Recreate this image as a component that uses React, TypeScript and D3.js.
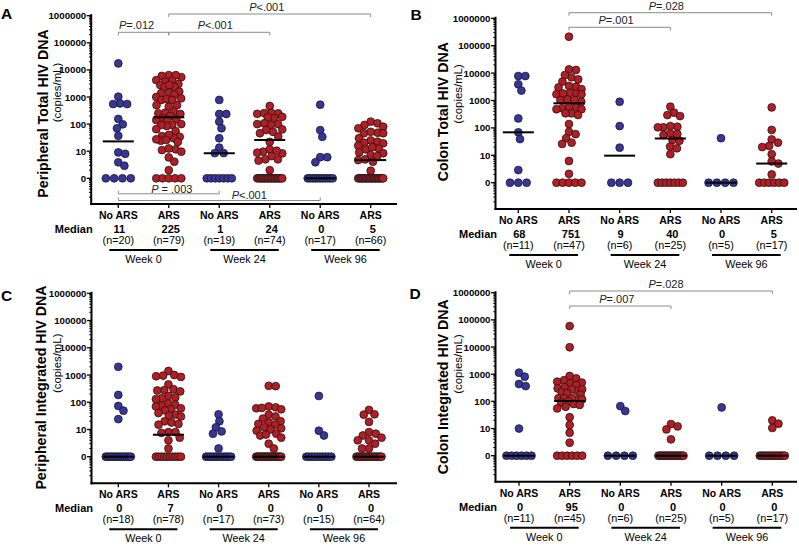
import React from "react";
import * as d3 from "d3";

const FONT = "'Liberation Sans', Arial, Helvetica, sans-serif";

const groupLabels = ["No ARS", "ARS", "No ARS", "ARS", "No ARS", "ARS"];
const groupArm = ["noars", "ars", "noars", "ars", "noars", "ars"];
const weekLabels = ["Week 0", "Week 24", "Week 96"];
const yTickValues = [1, 10, 100, 1000, 10000, 100000, 1000000];
const yTickLabels = ["0", "10", "100", "1000", "10000", "100000", "1000000"];

// ---------- Panel A: Peripheral Total HIV DNA ----------
const aNoArsW0 = [17400, 1030, 580, 550, 550, 155, 98, 70, 37, 9, 8, 3.9, 2.9, 0, 0, 0, 0];
const aArsW0 = [6400, 5400, 6000, 6400, 4200, 3700, 4000, 3000, 2750, 2300, 2400, 2750, 1580, 1380, 1450, 1200, 1000, 775, 830, 890, 775, 500, 440, 500, 290, 250, 263, 236, 200, 163, 141, 150, 141, 93, 85, 93, 100, 65, 55, 34, 30, 36, 40, 22, 24.5, 26, 27.5, 11.7, 9.6, 11, 12.6, 5.9, 4.1, 2, 0, 0, 0, 0, 0];
const aNoArsW24 = [780, 236, 236, 123, 70, 30, 13.5, 8.5, 8.5, 0, 0, 0, 0, 0, 0, 0];
const aArsW24 = [465, 250, 260, 240, 255, 185, 165, 178, 100, 93, 107, 100, 60, 52, 64, 46, 35, 22, 11.7, 9.6, 8.3, 8.8, 10.4, 5, 4.5, 5, 6.6, 2, 0, 0, 0, 0, 0, 0, 0, 0, 0, 0, 0, 0, 0, 0, 0, 0, 0, 0];
const aNoArsW96 = [520, 60, 34, 6, 6, 3.9, 0, 0, 0, 0, 0, 0, 0, 0, 0, 0, 0];
const aArsW96 = [123, 107, 93, 80, 70, 46, 48, 52, 46, 30, 25, 20.5, 22.4, 19.5, 16, 12.6, 11.7, 14, 9, 8.4, 7.2, 6.6, 4.7, 4.1, 5, 1.9, 0, 0, 0, 0, 0, 0, 0, 0, 0, 0, 0, 0, 0, 0, 0, 0, 0, 0, 0, 0];
const aMedianLines = [23, 178, 8.4, 26, 0, 4.7];
const aMedianLabels = ["11", "225", "1", "24", "0", "5"];
const aNLabels = ["(n=20)", "(n=79)", "(n=19)", "(n=74)", "(n=17)", "(n=66)"];

// ---------- Panel B: Colon Total HIV DNA ----------
const bNoArsW0 = [7800, 7800, 3900, 2300, 222, 69, 39, 2.9, 0, 0, 0];
const bArsW0 = [213000, 13000, 13700, 7000, 4900, 5900, 8500, 3200, 2600, 3000, 3400, 1700, 1900, 1800, 1800, 1700, 1040, 900, 1100, 1040, 560, 480, 520, 480, 590, 340, 295, 340, 138, 72, 59, 42, 26, 29, 6.2, 2.1, 0, 0, 0, 0, 0];
const bNoArsW24 = [900, 117, 19, 0, 0, 0];
const bArsW24 = [595, 360, 270, 295, 110, 105, 105, 117, 63, 55, 60, 36, 34, 20.7, 18, 11, 0, 0, 0, 0, 0, 0, 0];
const bNoArsW96 = [42, 0, 0, 0, 0];
const bArsW96 = [560, 84, 38, 29, 22, 20, 11, 6, 5, 2, 0, 0, 0, 0, 0, 0];
const bMedianLines = [69, 790, 9.7, 41, 0, 5];
const bMedianLabels = ["68", "751", "9", "40", "0", "5"];
const bNLabels = ["(n=11)", "(n=47)", "(n=6)", "(n=25)", "(n=5)", "(n=17)"];

// ---------- Panel C: Peripheral Integrated HIV DNA ----------
const cNoArsW0 = [2000, 185, 73, 49, 24, 0, 0, 0, 0, 0, 0, 0, 0, 0, 0, 0, 0, 0];
const cArsW0 = [1400, 1000, 950, 900, 850, 450, 300, 280, 270, 250, 170, 150, 140, 130, 90, 80, 75, 70, 60, 55, 50, 40, 35, 32, 30, 20, 18, 16, 15, 8, 8, 7.5, 5, 4, 2, 0, 0, 0, 0, 0, 0, 0, 0, 0, 0];
const cNoArsW24 = [36, 20, 12, 8.5, 7, 2, 0, 0, 0, 0, 0, 0, 0, 0, 0, 0, 0, 0];
const cArsW24 = [400, 390, 70, 65, 60, 55, 62, 35, 30, 25, 20, 18, 16, 15, 12, 11, 10, 9, 7, 6, 6.5, 5, 3, 2, 0, 0, 0, 0, 0, 0, 0, 0, 0, 0, 0, 0, 0, 0, 0, 0, 0, 0, 0, 0];
const cNoArsW96 = [170, 9, 6, 0, 0, 0, 0, 0, 0, 0, 0, 0, 0];
const cArsW96 = [52, 36, 35, 19, 8, 7, 6, 5, 4, 4, 3, 2, 2, 0, 0, 0, 0, 0, 0, 0, 0, 0, 0, 0, 0, 0, 0, 0, 0];
const cMedianLines = [0, 6.4, 0, 0, 0, 0];
const cMedianLabels = ["0", "7", "0", "0", "0", "0"];
const cNLabels = ["(n=18)", "(n=78)", "(n=17)", "(n=73)", "(n=15)", "(n=64)"];

// ---------- Panel D: Colon Integrated HIV DNA ----------
const dNoArsW0 = [1140, 810, 435, 365, 10, 0, 0, 0, 0, 0, 0];
const dArsW0 = [59000, 9800, 860, 700, 600, 460, 490, 530, 400, 300, 245, 277, 330, 277, 220, 200, 180, 118, 130, 130, 118, 130, 100, 90, 80, 63, 55, 74, 26, 13.5, 7, 3, 0, 0, 0, 0, 0, 0];
const dNoArsW24 = [67, 44, 0, 0, 0, 0];
const dArsW24 = [14.6, 12, 9.3, 4, 0, 0, 0, 0, 0, 0, 0, 0, 0, 0, 0, 0, 0, 0, 0, 0, 0, 0];
const dNoArsW96 = [60, 0, 0, 0, 0];
const dArsW96 = [20, 15, 10.5, 0, 0, 0, 0, 0, 0, 0, 0, 0, 0, 0, 0, 0, 0];
const dMedianLines = [0, 103, 0, 0, 0, 0];
const dMedianLabels = ["0", "95", "0", "0", "0", "0"];
const dNLabels = ["(n=11)", "(n=45)", "(n=6)", "(n=25)", "(n=5)", "(n=17)"];

const COLORS: Record<string, string> = { noars: "#36369c", ars: "#b41d23" };

type Bracket = { from: number; to: number; yPix: number; dir: number; text: string; dx: number; dy: number };
type Panel = {
  letter: string; letterX: number; letterY: number;
  title: string; titleX: number; titleY: number; unitX: number; unitY: number;
  axisX: number; yTop: number; yOne: number; xAxisY: number; xEnd: number; c1: number; c6: number;
  groups: number[][]; medians: number[]; medianLabels: string[]; nLabels: string[]; brackets: Bracket[];
};

const panels: Panel[] = [
  {
    letter: "A", letterX: 1, letterY: 18.5,
    title: "Peripheral Total HIV DNA", titleX: 42.7, titleY: 113.5, unitX: 56.7, unitY: 92.5,
    axisX: 91.2, yTop: 15.7, yOne: 178.3, xAxisY: 204, xEnd: 397, c1: 118.3, c6: 370.7,
    groups: [aNoArsW0, aArsW0, aNoArsW24, aArsW24, aNoArsW96, aArsW96],
    medians: aMedianLines, medianLabels: aMedianLabels, nLabels: aNLabels,
    brackets: [
      { from: 1, to: 5, yPix: 14, dir: 1, text: "<.001", dx: -3, dy: -3 },
      { from: 0, to: 1, yPix: 32.3, dir: 1, text: "=.012", dx: -7, dy: -3 },
      { from: 1, to: 3, yPix: 32.3, dir: 1, text: "<.001", dx: -4, dy: -3 },
      { from: 0, to: 2, yPix: 193.8, dir: -1, text: " = .003", dx: 3, dy: -1 },
      { from: 0, to: 4, yPix: 200.5, dir: -1, text: "<.001", dx: 30, dy: -1.7 },
    ],
  },
  {
    letter: "B", letterX: 410.5, letterY: 19.5,
    title: "Colon Total HIV DNA", titleX: 443.3, titleY: 111.7, unitX: 458.3, unitY: 94,
    axisX: 495.5, yTop: 18.3, yOne: 182.7, xAxisY: 209, xEnd: 797, c1: 518.3, c6: 771.7,
    groups: [bNoArsW0, bArsW0, bNoArsW24, bArsW24, bNoArsW96, bArsW96],
    medians: bMedianLines, medianLabels: bMedianLabels, nLabels: bNLabels,
    brackets: [
      { from: 1, to: 5, yPix: 12.7, dir: 1, text: "=.028", dx: -4, dy: -3.2 },
      { from: 1, to: 3, yPix: 27.3, dir: 1, text: "=.001", dx: -3.6, dy: -3.2 },
    ],
  },
  {
    letter: "C", letterX: 1, letterY: 301,
    title: "Peripheral Integrated HIV DNA", titleX: 41, titleY: 387.5, unitX: 56.5, unitY: 363.3,
    axisX: 91.5, yTop: 293.3, yOne: 456.7, xAxisY: 483.3, xEnd: 397, c1: 118.3, c6: 369,
    groups: [cNoArsW0, cArsW0, cNoArsW24, cArsW24, cNoArsW96, cArsW96],
    medians: cMedianLines, medianLabels: cMedianLabels, nLabels: cNLabels,
    brackets: [],
  },
  {
    letter: "D", letterX: 409.5, letterY: 298.5,
    title: "Colon Integrated HIV DNA", titleX: 443.3, titleY: 386.7, unitX: 457.5, unitY: 364,
    axisX: 495.5, yTop: 292.7, yOne: 455.7, xAxisY: 481.7, xEnd: 797, c1: 519, c6: 772.3,
    groups: [dNoArsW0, dArsW0, dNoArsW24, dArsW24, dNoArsW96, dArsW96],
    medians: dMedianLines, medianLabels: dMedianLabels, nLabels: dNLabels,
    brackets: [
      { from: 1, to: 5, yPix: 291, dir: 1, text: "=.028", dx: -5, dy: -2.8 },
      { from: 1, to: 3, yPix: 306, dir: 1, text: "=.007", dx: -3.5, dy: -2.8 },
    ],
  },
];

const R = 3.9;
const SWARM_D = 7.0;
const SWARM_HALF = 12.5;
const ZERO_STEP = 8.3;
const ZERO_HALF = 12.5;

type Pt = { v: number; y: number; x: number };

function swarm(vals: number[], yPos: (v: number) => number): Pt[] {
  const pts: Pt[] = vals.map((v) => ({ v, y: yPos(v <= 0 ? 1 : v), x: 0 }));
  const zeros = pts.filter((p) => p.v <= 0);
  const n = zeros.length;
  if (n > 1) {
    const step = Math.min(ZERO_STEP, (2 * ZERO_HALF) / (n - 1));
    zeros.forEach((p, i) => { p.x = (i - (n - 1) / 2) * step; });
  }
  const nz = pts.filter((p) => p.v > 0).sort((a, b) => a.y - b.y);
  const placed: { x: number; y: number }[] = [];
  const d = SWARM_D;
  for (const p of nz) {
    const cands = [0];
    for (const q of placed) {
      const dy = Math.abs(q.y - p.y);
      if (dy < d) {
        const dx = Math.sqrt(d * d - dy * dy);
        cands.push(q.x + dx + 0.01, q.x - dx - 0.01);
      }
    }
    cands.sort((a, b) => Math.abs(a) - Math.abs(b));
    let best: number | null = null;
    for (const c of cands) {
      if (Math.abs(c) > SWARM_HALF) continue;
      if (placed.every((q) => (q.x - c) ** 2 + (q.y - p.y) ** 2 >= d * d - 0.05)) { best = c; break; }
    }
    if (best === null) {
      let bestMin = -1;
      for (let c = -SWARM_HALF; c <= SWARM_HALF; c += 0.5) {
        let minD = Infinity;
        for (const q of placed) minD = Math.min(minD, Math.hypot(q.x - c, q.y - p.y));
        if (minD > bestMin) { bestMin = minD; best = c; }
      }
    }
    p.x = best as number;
    placed.push({ x: p.x, y: p.y });
  }
  return pts;
}

const ROW_OFF = [11, 25, 36, 46, 55];

function PanelView({ p }: { p: Panel }) {
  const y = d3.scaleLog().domain([1, 1e6]).range([p.yOne, p.yTop]);
  const x = d3.scalePoint<number>().domain(d3.range(6)).range([p.c1, p.c6]);
  const minor: number[] = [];
  for (let e = -1; e < 6; e++) {
    for (let k = 2; k <= 9; k++) {
      const yy = y(k * Math.pow(10, e));
      if (yy < p.xAxisY - 1.5) minor.push(yy);
    }
  }
  const gray = "#8a8a8a";
  return (
    <g>
      <text x={p.letterX} y={p.letterY} fontSize={15.5} fontWeight="bold" fontFamily={FONT}>{p.letter}</text>
      <text transform={`translate(${p.titleX},${p.titleY}) rotate(-90)`} textAnchor="middle" dominantBaseline="central"
        fontSize={14.2} fontWeight="bold" fontFamily={FONT}>{p.title}</text>
      <text transform={`translate(${p.unitX},${p.unitY}) rotate(-90)`} textAnchor="middle" dominantBaseline="central"
        fontSize={11.4} fontFamily={FONT}>(copies/mL)</text>

      {/* brackets */}
      {p.brackets.map((b, i) => {
        const x1 = x(b.from) as number;
        const x2 = x(b.to) as number;
        const tick = 3 * b.dir;
        return (
          <g key={"b" + i}>
            <path d={`M${x1},${b.yPix + tick}V${b.yPix}H${x2}V${b.yPix + tick}`} fill="none" stroke={gray} strokeWidth={1} />
            <text x={(x1 + x2) / 2 + b.dx} y={b.yPix + b.dy} textAnchor="middle" fontSize={11} fontFamily={FONT} fill="#222">
              <tspan fontStyle="italic">P</tspan>{b.text}
            </text>
          </g>
        );
      })}

      {/* dots */}
      {p.groups.map((vals, gi) => {
        const pts = swarm(vals, (v) => y(v));
        const cx = x(gi) as number;
        return (
          <g key={"g" + gi}>
            {pts.map((pt, j) => (
              <circle key={j} cx={cx + pt.x} cy={pt.y} r={R} fill={COLORS[groupArm[gi]]} stroke="#1a1a1a" strokeWidth={0.8} />
            ))}
          </g>
        );
      })}

      {/* median lines */}
      {p.medians.map((m, gi) => {
        const cx = x(gi) as number;
        const yy = y(m <= 0 ? 1 : m);
        return <line key={"m" + gi} x1={cx - 15.5} x2={cx + 15.5} y1={yy} y2={yy} stroke="#000" strokeWidth={2} />;
      })}

      {/* y axis */}
      <line x1={p.axisX} x2={p.axisX} y1={p.yTop - 1.5} y2={p.xAxisY + 1} stroke="#000" strokeWidth={2} />
      {minor.map((yy, i) => (
        <line key={"mn" + i} x1={p.axisX - 2.2} x2={p.axisX} y1={yy} y2={yy} stroke="#000" strokeWidth={1} />
      ))}
      {yTickValues.map((v, i) => (
        <g key={"t" + i}>
          <line x1={p.axisX - 4.5} x2={p.axisX} y1={y(v)} y2={y(v)} stroke="#000" strokeWidth={1.3} />
          <text x={p.axisX - 5} y={y(v)} textAnchor="end" dominantBaseline="central" fontSize={9.7} fontWeight="bold" fontFamily={FONT}>
            {yTickLabels[i]}
          </text>
        </g>
      ))}

      {/* x axis */}
      <line x1={p.axisX - 1} x2={p.xEnd} y1={p.xAxisY} y2={p.xAxisY} stroke="#000" strokeWidth={2} />
      {d3.range(6).map((gi) => (
        <line key={"xt" + gi} x1={x(gi) as number} x2={x(gi) as number} y1={p.xAxisY} y2={p.xAxisY + 4} stroke="#000" strokeWidth={1.3} />
      ))}

      {/* category labels */}
      {d3.range(6).map((gi) => {
        const cx = x(gi) as number;
        return (
          <g key={"cl" + gi} fontFamily={FONT}>
            <text x={cx} y={p.xAxisY + ROW_OFF[0]} textAnchor="middle" dominantBaseline="central" fontSize={10.5} fontWeight="bold">{groupLabels[gi]}</text>
            <text x={cx + (gi % 2 === 1 ? 2 : 1)} y={p.xAxisY + ROW_OFF[1]} textAnchor="middle" dominantBaseline="central" fontSize={11} fontWeight="bold">{p.medianLabels[gi]}</text>
            <text x={cx} y={p.xAxisY + ROW_OFF[2]} textAnchor="middle" dominantBaseline="central" fontSize={10.8}>{p.nLabels[gi]}</text>
          </g>
        );
      })}
      <text x={p.axisX + 1.5} y={p.xAxisY + ROW_OFF[1]} textAnchor="end" dominantBaseline="central" fontSize={11} fontWeight="bold" fontFamily={FONT}>Median</text>
      {weekLabels.map((w, wi) => {
        const xa = x(wi * 2) as number;
        const xb = x(wi * 2 + 1) as number;
        return (
          <g key={"w" + wi}>
            <line x1={xa - 9} x2={xb + 9} y1={p.xAxisY + ROW_OFF[3]} y2={p.xAxisY + ROW_OFF[3]} stroke="#000" strokeWidth={2} />
            <text x={(xa + xb) / 2} y={p.xAxisY + ROW_OFF[4]} textAnchor="middle" dominantBaseline="central" fontSize={10.8} fontFamily={FONT}>{w}</text>
          </g>
        );
      })}
    </g>
  );
}

export default function App() {
  return (
    <svg width={799} height={547} viewBox="0 0 799 547" style={{ position: "absolute", left: 0, top: 0, background: "#fff" }}>
      <rect x={0} y={0} width={799} height={547} fill="#fff" />
      {panels.map((p) => <PanelView key={p.letter} p={p} />)}
    </svg>
  );
}
